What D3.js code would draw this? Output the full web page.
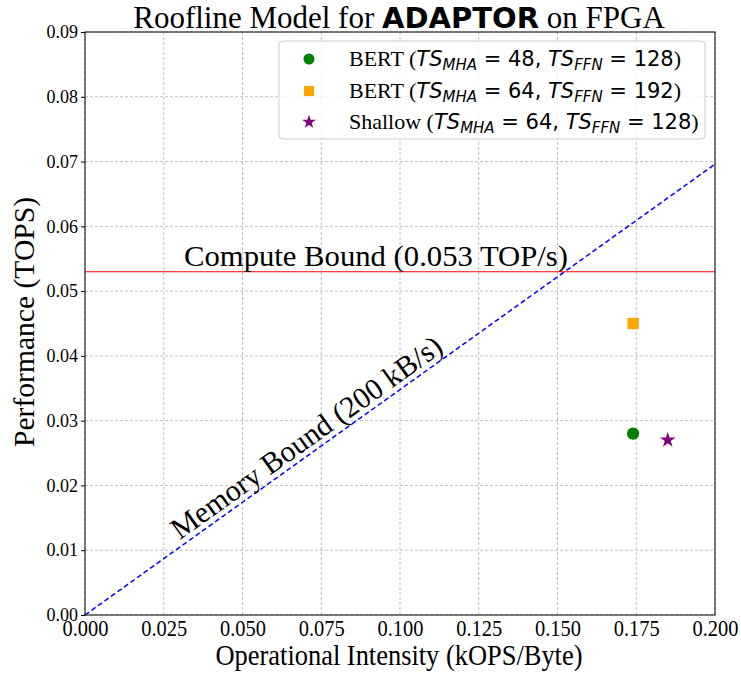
<!DOCTYPE html>
<html><head><meta charset="utf-8">
<script src="https://cdn.jsdelivr.net/npm/d3@7"></script>
<style>
body{margin:0;background:#fff;}
svg{display:block;}
</style></head>
<body><svg id="c" width="741" height="675"></svg>
<script>
const xTicks = [0, 0.025, 0.05, 0.075, 0.1, 0.125, 0.15, 0.175, 0.2];
const yTicks = [0, 0.01, 0.02, 0.03, 0.04, 0.05, 0.06, 0.07, 0.08, 0.09];
const seriesLabels = ["BERT", "BERT", "Shallow"];
const seriesMHA = [48, 64, 64];
const seriesFFN = [128, 192, 128];
const seriesX = [0.174, 0.174, 0.185];
const seriesY = [0.028, 0.045, 0.027];
const seriesColors = ["#008000", "#FFA500", "#800080"];
const seriesSymbols = ["circle", "square", "star"];
const computeBound = 0.053;
const memoryX = [0, 0.2];
const memoryY = [0, 0.0696];

const svg = d3.select("#c");
const L = 85, R = 715, T = 32, B = 615;
const x = d3.scaleLinear().domain([0, 0.2]).range([L, R]);
const y = d3.scaleLinear().domain([0, 0.09]).range([B, T]);
const serif = "'Liberation Serif','Times New Roman',serif";
const sans = "'DejaVu Sans',sans-serif";

// grid
const g = svg.append("g");
g.selectAll("line.gx").data(xTicks).join("line")
  .attr("x1", d => x(d)).attr("x2", d => x(d)).attr("y1", T).attr("y2", B)
  .attr("stroke", "#b0b0b0").attr("stroke-width", 0.8).attr("stroke-dasharray", "3,2");
g.selectAll("line.gy").data(yTicks).join("line")
  .attr("x1", L).attr("x2", R).attr("y1", d => y(d)).attr("y2", d => y(d))
  .attr("stroke", "#b0b0b0").attr("stroke-width", 0.8).attr("stroke-dasharray", "3,2");

// axes
const xAxis = svg.append("g").attr("transform", `translate(0,${B})`)
  .call(d3.axisBottom(x).tickValues(xTicks).tickFormat(d3.format(".3f")).tickSize(0).tickPadding(5));
xAxis.select(".domain").remove();
xAxis.selectAll("text").attr("font-family", serif).attr("font-size", 23).attr("fill", "#000")
  .attr("textLength", 46).attr("lengthAdjust", "spacingAndGlyphs");
const yAxis = svg.append("g").attr("transform", `translate(${L},0)`)
  .call(d3.axisLeft(y).tickValues(yTicks).tickFormat(d3.format(".2f")).tickSize(4).tickPadding(3));
yAxis.select(".domain").remove();
yAxis.selectAll("text").attr("font-family", serif).attr("font-size", 18).attr("fill", "#000");

// memory bound line
svg.append("path")
  .attr("d", d3.line().x((d, i) => x(memoryX[i])).y(d => y(d))(memoryY))
  .attr("fill", "none").attr("stroke", "blue").attr("stroke-width", 1.5).attr("stroke-dasharray", "5,3");
// compute bound
svg.append("line").attr("x1", L).attr("x2", R).attr("y1", y(computeBound)).attr("y2", y(computeBound))
  .attr("stroke", "#ff0000").attr("stroke-width", 1.1);

// frame
svg.append("rect").attr("x", L).attr("y", T).attr("width", R - L).attr("height", B - T)
  .attr("fill", "none").attr("stroke", "#000").attr("stroke-width", 1);

// annotations
svg.append("text").attr("x", 376).attr("y", 266).attr("text-anchor", "middle")
  .attr("font-family", serif).attr("font-size", 30)
  .attr("textLength", 384).attr("lengthAdjust", "spacingAndGlyphs")
  .text("Compute Bound (0.053 TOP/s)");
const ang = -Math.atan((y(0) - y(memoryY[1])) / (x(memoryX[1]) - x(0))) * 180 / Math.PI;
svg.append("text").attr("transform", `translate(306,437) rotate(${ang})`).attr("text-anchor", "middle")
  .attr("dominant-baseline", "central")
  .attr("font-family", serif).attr("font-size", 30).text("Memory Bound (200 kB/s)");

// points
const sym = {circle: d3.symbolCircle, square: d3.symbolSquare, star: d3.symbolStar};
const sizes = {circle: 120, square: 130, star: 75};
svg.selectAll("path.pt").data(seriesX).join("path")
  .attr("transform", (d, i) => `translate(${x(d)},${y(seriesY[i])})`)
  .attr("d", (d, i) => d3.symbol(sym[seriesSymbols[i]], sizes[seriesSymbols[i]])())
  .attr("fill", (d, i) => seriesColors[i]);

// legend
const lg = svg.append("g");
lg.append("rect").attr("x", 279).attr("y", 41).attr("width", 426).attr("height", 98).attr("rx", 4)
  .attr("fill", "#fff").attr("fill-opacity", 0.8).attr("stroke", "#cccccc").attr("stroke-width", 1);
const rowY = [59, 91, 122];
seriesLabels.forEach((lab, i) => {
  lg.append("path").attr("transform", `translate(309,${rowY[i]})`)
    .attr("d", d3.symbol(sym[seriesSymbols[i]], sizes[seriesSymbols[i]] * 0.8)())
    .attr("fill", seriesColors[i]);
  const t = lg.append("text").attr("x", 349).attr("y", rowY[i] + 7).attr("font-size", 22);
  t.append("tspan").attr("font-family", serif).text(lab + " (");
  t.append("tspan").attr("font-family", sans).attr("font-style", "italic").attr("font-size", 21).text("TS");
  t.append("tspan").attr("font-family", sans).attr("font-style", "italic").attr("font-size", 15).attr("dy", 4).text("MHA");
  t.append("tspan").attr("font-family", sans).attr("font-size", 21).attr("dy", -4).text(" = " + seriesMHA[i] + ", ");
  t.append("tspan").attr("font-family", sans).attr("font-style", "italic").attr("font-size", 21).text("TS");
  t.append("tspan").attr("font-family", sans).attr("font-style", "italic").attr("font-size", 15).attr("dy", 4).text("FFN");
  t.append("tspan").attr("font-family", sans).attr("font-size", 21).attr("dy", -4).text(" = " + seriesFFN[i]);
  t.append("tspan").attr("font-family", serif).text(")");
});

// titles
const title = svg.append("text").attr("x", 399).attr("y", 28).attr("text-anchor", "middle").attr("font-size", 31);
title.append("tspan").attr("font-family", serif).text("Roofline Model for ");
title.append("tspan").attr("font-family", sans).attr("font-weight", "bold").attr("font-size", 29).text("ADAPTOR");
title.append("tspan").attr("font-family", serif).text(" on FPGA");

svg.append("text").attr("x", 399).attr("y", 665).attr("text-anchor", "middle")
  .attr("font-family", serif).attr("font-size", 30)
  .attr("textLength", 367).attr("lengthAdjust", "spacingAndGlyphs")
  .text("Operational Intensity (kOPS/Byte)");
svg.append("text").attr("transform", "translate(34,322) rotate(-90)").attr("text-anchor", "middle")
  .attr("font-family", serif).attr("font-size", 30)
  .attr("textLength", 250).attr("lengthAdjust", "spacingAndGlyphs")
  .text("Performance (TOPS)");
</script></body></html>
